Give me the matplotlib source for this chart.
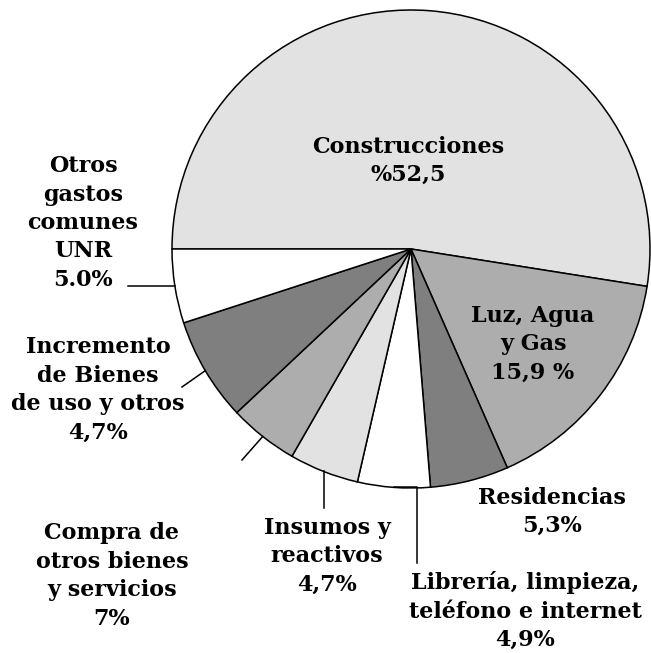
import matplotlib.pyplot as plt
import numpy as np

# slice sizes as drawn (clockwise from 9 o'clock)
sizes = [52.5, 15.9, 5.3, 4.9, 4.7, 4.7, 7.0, 5.0]
colors = ["#e2e2e2", "#adadad", "#7f7f7f", "#ffffff",
          "#e2e2e2", "#adadad", "#7f7f7f", "#ffffff"]
labels = [
    "Construcciones\n%52,5",
    "Luz, Agua\ny Gas\n15,9 %",
    "Residencias\n5,3%",
    "Librería, limpieza,\nteléfono e internet\n4,9%",
    "Insumos y\nreactivos\n4,7%",
    "Compra de\notros bienes\ny servicios\n7%",
    "Incremento\nde Bienes\nde uso y otros\n4,7%",
    "Otros\ngastos\ncomunes\nUNR\n5.0%",
]
# label centres (pixels from top-left)
label_pos = [(408, 161), (533, 344), (552, 512), (525, 611),
             (327, 556), (112, 576), (98, 390), (83, 223)]

W, H = 651, 653
cx, cy, r = 411, H - 249, 239

fig = plt.figure(figsize=(W / 100, H / 100), dpi=100)
ax = fig.add_axes([0, 0, 1, 1])
wedges, _ = ax.pie(sizes, colors=colors, startangle=180, counterclock=False,
                   center=(cx, cy), radius=r,
                   wedgeprops=dict(edgecolor="black", linewidth=1.1))
ax.set_xlim(0, W)
ax.set_ylim(0, H)
ax.set_aspect("equal")
ax.axis("off")

font = dict(family="DejaVu Serif", weight="bold", fontsize=16,
            ha="center", va="center", linespacing=1.38)
for lab, (x, y) in zip(labels, label_pos):
    ax.text(x, H - y, lab, **font)


def edge_point(i):
    w = wedges[i]
    a = np.deg2rad((w.theta1 + w.theta2) / 2)
    return cx + r * np.cos(a), cy + r * np.sin(a)


# leader lines
x0, y0 = edge_point(7)
ax.plot([x0, 128], [y0, y0], color="black", lw=1.1)
x0, y0 = edge_point(6)
ax.plot([x0, 182], [y0, H - 387], color="black", lw=1.1)
x0, y0 = edge_point(5)
ax.plot([x0, 242], [y0, H - 460], color="black", lw=1.1)
x0, y0 = edge_point(4)
ax.plot([x0, x0], [y0, H - 508], color="black", lw=1.1)
x0, y0 = edge_point(3)
ax.plot([x0, 417, 417], [y0, y0, H - 563], color="black", lw=1.1)

fig.savefig("out.png", dpi=100)
